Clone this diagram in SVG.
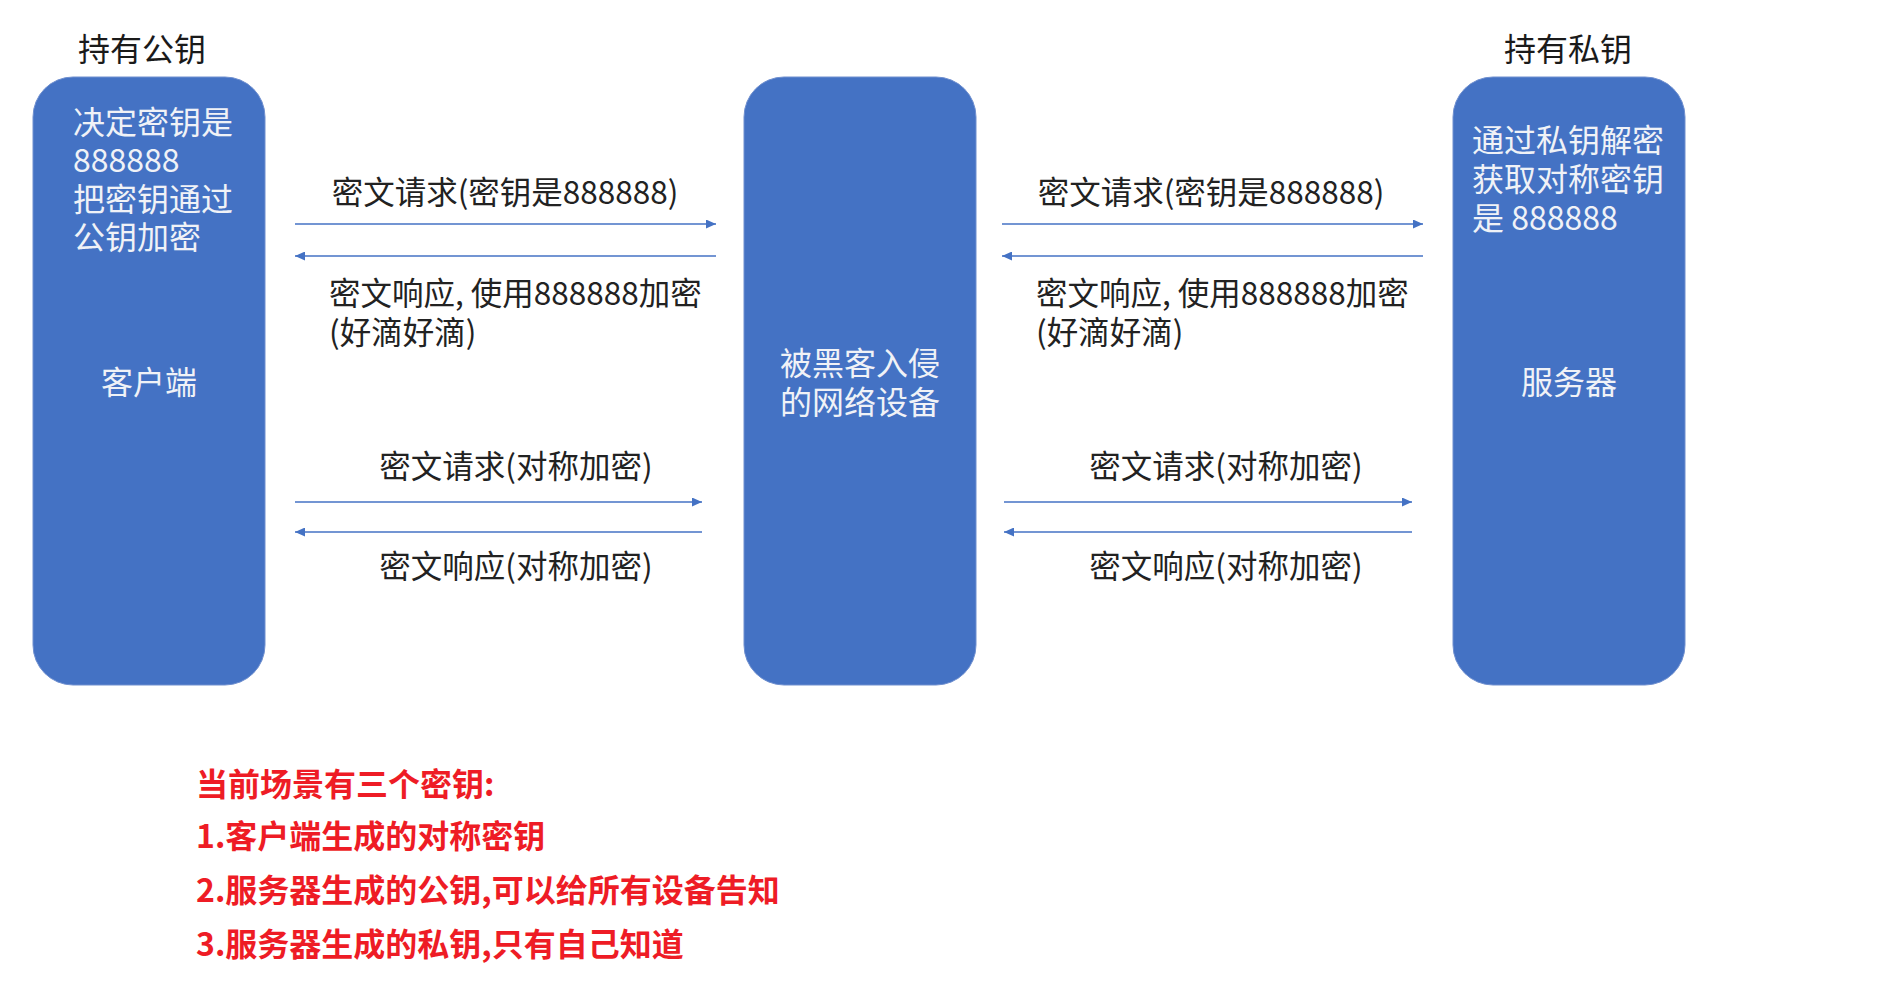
<svg xmlns="http://www.w3.org/2000/svg" width="1902" height="1001" viewBox="0 0 1902 1001">
<defs>
<marker id="ah" markerWidth="10" markerHeight="9" refX="10" refY="4.5" orient="auto" markerUnits="userSpaceOnUse">
<path d="M0,0 L10,4.5 L0,9 Z" fill="#4472C4"/>
</marker>
<style>
.box{fill:#4472C4;stroke:#6F8FCF;stroke-width:1}
.bt{font-family:"Noto Sans CJK SC","Noto Sans",sans-serif;font-size:32px;fill:#F0F2F7}
.hd{font-family:"Noto Sans CJK SC","Noto Sans",sans-serif;font-size:32px;fill:#1A1A1A}
.lb{font-family:"Noto Sans CJK SC","Noto Sans",sans-serif;font-size:31.5px;fill:#222222}
.note{font-family:"Noto Sans CJK SC","Noto Sans",sans-serif;font-size:32px;font-weight:bold;fill:#EE1C25}
.ln{stroke:#4472C4;stroke-width:1.6;fill:none}
</style>
</defs>
<rect width="1902" height="1001" fill="#FFFFFF"/>

<g id="client">
<text class="hd" x="78" y="61">持有公钥</text>
<rect class="box" x="33" y="77" width="232" height="608" rx="40" ry="40"/>
<text class="bt" x="73" y="134">决定密钥是</text>
<text class="bt" x="73" y="172">888888</text>
<text class="bt" x="73" y="211">把密钥通过</text>
<text class="bt" x="73" y="249">公钥加密</text>
<text class="bt" x="149" y="394" text-anchor="middle">客户端</text>
</g>

<g id="middle">
<rect class="box" x="744" y="77" width="232" height="608" rx="40" ry="40"/>
<text class="bt" x="860" y="375" text-anchor="middle">被黑客入侵</text>
<text class="bt" x="860" y="414" text-anchor="middle">的网络设备</text>
</g>

<g id="server">
<text class="hd" x="1568" y="61" text-anchor="middle">持有私钥</text>
<rect class="box" x="1453" y="77" width="232" height="608" rx="40" ry="40"/>
<text class="bt" x="1472" y="152">通过私钥解密</text>
<text class="bt" x="1472" y="191">获取对称密钥</text>
<text class="bt" x="1472" y="230">是 888888</text>
<text class="bt" x="1569" y="394" text-anchor="middle">服务器</text>
</g>

<g id="connectors">
<line class="ln" x1="295" y1="224" x2="716" y2="224" marker-end="url(#ah)"/>
<line class="ln" x1="716" y1="256" x2="295" y2="256" marker-end="url(#ah)"/>
<line class="ln" x1="295" y1="502" x2="702" y2="502" marker-end="url(#ah)"/>
<line class="ln" x1="702" y1="532" x2="295" y2="532" marker-end="url(#ah)"/>
<line class="ln" x1="1002" y1="224" x2="1423" y2="224" marker-end="url(#ah)"/>
<line class="ln" x1="1423" y1="256" x2="1002" y2="256" marker-end="url(#ah)"/>
<line class="ln" x1="1004" y1="502" x2="1412" y2="502" marker-end="url(#ah)"/>
<line class="ln" x1="1412" y1="532" x2="1004" y2="532" marker-end="url(#ah)"/>
</g>

<g id="labels">
<text class="lb" x="505" y="204" text-anchor="middle">密文请求(密钥是888888)</text>
<text class="lb" x="329" y="305">密文响应, 使用888888加密</text>
<text class="lb" x="329" y="344">(好滴好滴)</text>
<text class="lb" x="516" y="478" text-anchor="middle">密文请求(对称加密)</text>
<text class="lb" x="516" y="578" text-anchor="middle">密文响应(对称加密)</text>
<text class="lb" x="1211" y="204" text-anchor="middle">密文请求(密钥是888888)</text>
<text class="lb" x="1036" y="305">密文响应, 使用888888加密</text>
<text class="lb" x="1036" y="344">(好滴好滴)</text>
<text class="lb" x="1226" y="478" text-anchor="middle">密文请求(对称加密)</text>
<text class="lb" x="1226" y="578" text-anchor="middle">密文响应(对称加密)</text>
</g>

<g id="notes">
<text class="note" x="196" y="796">当前场景有三个密钥:</text>
<text class="note" x="196" y="848">1.客户端生成的对称密钥</text>
<text class="note" x="196" y="902">2.服务器生成的公钥,可以给所有设备告知</text>
<text class="note" x="196" y="956">3.服务器生成的私钥,只有自己知道</text>
</g>
</svg>
